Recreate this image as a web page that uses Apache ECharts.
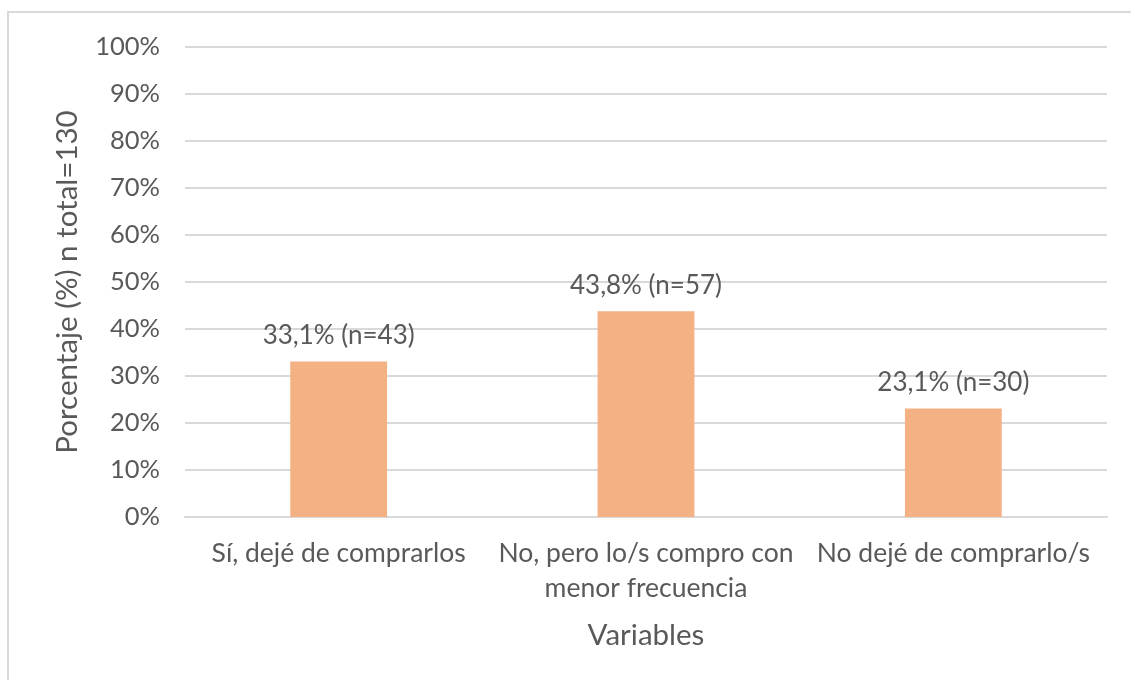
<!DOCTYPE html>
<html>
<head>
<meta charset="utf-8">
<script src="https://cdn.jsdelivr.net/npm/echarts@6/dist/echarts.min.js"></script>
<style>
  html, body { margin: 0; padding: 0; background: #ffffff; }
  #chart { width: 1131px; height: 680px; }
</style>
</head>
<body>
<div id="chart"></div>
<script>
// Survey answers and their shares of the total (n = 130)
const categories = [
  'Sí, dejé de comprarlos',
  'No, pero lo/s compro con\nmenor frecuencia',
  'No dejé de comprarlo/s'
];
const percentages = [33.1, 43.8, 23.1];
const counts = [43, 57, 30];
const yTicks = [0, 10, 20, 30, 40, 50, 60, 70, 80, 90, 100];

const textColor = '#595959';
const fontFamily = 'Lato, "Open Sans", sans-serif';

const chart = echarts.init(document.getElementById('chart'), null, { renderer: 'canvas' });

chart.setOption({
  animation: false,
  backgroundColor: '#ffffff',
  textStyle: { fontFamily: fontFamily, color: textColor },
  graphic: [{
    type: 'rect',
    silent: true,
    z: 0,
    shape: { x: 8, y: 12, width: 1400, height: 900 },
    style: { fill: 'none', stroke: '#d9d9d9', lineWidth: 2 }
  }],
  grid: { left: 185, right: 24, top: 47, bottom: 163, containLabel: false },
  xAxis: {
    type: 'category',
    data: categories,
    name: 'Variables',
    nameLocation: 'middle',
    nameGap: 100,
    nameTextStyle: { fontSize: 29.5, color: textColor, lineHeight: 36, fontFamily: fontFamily },
    axisLine: { show: true, lineStyle: { color: '#d9d9d9', width: 2 } },
    axisTick: { show: false },
    axisLabel: {
      interval: 0,
      margin: 19,
      fontSize: 26.5,
      lineHeight: 35,
      color: textColor,
      fontFamily: fontFamily,
      align: 'center'
    }
  },
  yAxis: {
    type: 'value',
    min: yTicks[0],
    max: yTicks[yTicks.length - 1],
    interval: 10,
    name: 'Porcentaje (%) n total=130',
    nameLocation: 'middle',
    nameRotate: 90,
    nameGap: 99,
    nameTextStyle: { fontSize: 29.5, color: textColor, lineHeight: 34, fontFamily: fontFamily },
    axisLine: { show: false },
    axisTick: { show: false },
    axisLabel: {
      margin: 25,
      fontSize: 25.5,
      color: textColor,
      fontFamily: fontFamily,
      formatter: v => v + '%'
    },
    splitLine: { show: true, lineStyle: { color: '#d9d9d9', width: 2 } }
  },
  series: [{
    type: 'bar',
    data: percentages,
    barWidth: '31.5%',
    itemStyle: { color: '#F4B183' },
    label: {
      show: true,
      position: 'top',
      distance: 13,
      fontSize: 26,
      color: textColor,
      fontFamily: fontFamily,
      formatter: p => p.value.toFixed(1).replace('.', ',') + '% (n=' + counts[p.dataIndex] + ')'
    }
  }]
});
</script>
</body>
</html>
